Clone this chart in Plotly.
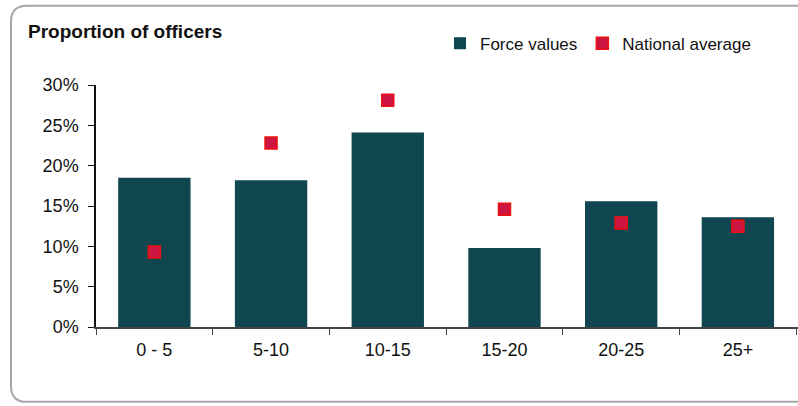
import plotly.graph_objects as go

# data
categories = ["0 - 5", "5-10", "10-15", "15-20", "20-25", "25+"]
force_values = [0.185, 0.182, 0.241, 0.098, 0.156, 0.136]
national_average = [0.093, 0.228, 0.281, 0.146, 0.129, 0.125]

W, H = 798, 406
L, R, T, B = 96, 0, 84.5, 79
pw = W - L - R
ph = H - T - B


def px(x):
    return (x - L) / pw


def py(y):
    return (H - B - y) / ph


fig = go.Figure()

fig.add_trace(go.Bar(
    x=categories, y=force_values, name="Force values",
    marker=dict(color="#0F4650", line=dict(width=0)),
    width=0.62,
))
fig.add_trace(go.Scatter(
    x=categories, y=national_average, name="National average",
    mode="markers",
    marker=dict(symbol="square", size=12, color="#CC1540",
                line=dict(color="#EE1111", width=1.5)),
))

# rounded frame round the chart
r = 16
x0, x1 = px(11), px(820)
y0, y1 = py(402), py(5)
rx, ry = r / pw, r / ph
path = (f"M {x0 + rx},{y1} L {x1},{y1} L {x1},{y0} L {x0 + rx},{y0} "
        f"Q {x0},{y0} {x0},{y0 + ry} L {x0},{y1 - ry} Q {x0},{y1} {x0 + rx},{y1} Z")
fig.add_shape(type="path", path=path, xref="paper", yref="paper",
              line=dict(color="#A6A6A6", width=2), layer="below")

fig.update_layout(
    width=W, height=H,
    margin=dict(l=L, r=R, t=T, b=B),
    paper_bgcolor="white", plot_bgcolor="white",
    font=dict(family="Liberation Sans, Arial, sans-serif", color="#111111"),
    title=dict(text="<b>Proportion of officers</b>", font=dict(size=19, color="#111111"),
               xref="container", yref="container", x=28 / W, xanchor="left",
               y=1 - 31 / H, yanchor="middle"),
    legend=dict(orientation="h", x=px(440), y=py(43), xanchor="left", yanchor="middle",
                font=dict(size=17), bgcolor="rgba(0,0,0,0)", itemwidth=30,
                tracegroupgap=0),
    showlegend=True,
    bargap=0.38,
)

fig.update_xaxes(
    range=[-0.5, 5.515], showline=True, linecolor="#444444", linewidth=1.5,
    ticks="outside", tickson="boundaries", ticklen=6, tickcolor="#444444",
    ticklabelstandoff=6,
    tickfont=dict(size=18), showgrid=False, zeroline=False, fixedrange=True,
)
fig.update_yaxes(
    range=[0, 0.30], tickvals=[0, 0.05, 0.10, 0.15, 0.20, 0.25, 0.30],
    tickformat=".0%", showline=True, linecolor="#111111", linewidth=1.5,
    ticks="outside", ticklen=6, tickcolor="#111111", ticklabelstandoff=6,
    tickfont=dict(size=18), showgrid=False, zeroline=False, fixedrange=True,
)

# drop the browser's default body margin so the figure sits at the page corner
fig.write_html("out.html", config={"displayModeBar": False},
               post_script="document.body.style.margin='0';")
